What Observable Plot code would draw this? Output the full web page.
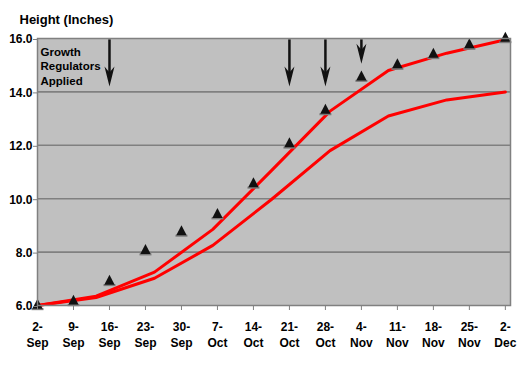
<!DOCTYPE html>
<html>
<head>
<meta charset="utf-8">
<script src="https://cdn.jsdelivr.net/npm/d3@7"></script>
<script src="https://cdn.jsdelivr.net/npm/@observablehq/plot@0.6"></script>
<style>
  html, body { margin: 0; padding: 0; background: #fff; }
</style>
</head>
<body>
<div id="chart"></div>
<script>
// ---- data ----
const weekDates = ["2002-09-02","2002-09-09","2002-09-16","2002-09-23","2002-09-30","2002-10-07","2002-10-14",
                   "2002-10-21","2002-10-28","2002-11-04","2002-11-11","2002-11-18","2002-11-25","2002-12-02"];
const weekLabels = ["2-\nSep","9-\nSep","16-\nSep","23-\nSep","30-\nSep","7-\nOct","14-\nOct",
                    "21-\nOct","28-\nOct","4-\nNov","11-\nNov","18-\nNov","25-\nNov","2-\nDec"];
const observedHeight = [6.05, 6.2, 6.95, 8.1, 8.8, 9.45, 10.6, 12.1, 13.35, 14.6, 15.05, 15.45, 15.8, 16.05];

// curve points: days after 2-Sep
const curveDays  = [0, 11.4, 22.75, 34.1, 45.5, 56.9, 68.25, 79.6, 91];
const upperCurve = [6.0, 6.35, 7.25, 8.85, 11.05, 13.28, 14.8, 15.45, 15.95];
const lowerCurve = [6.0, 6.3, 7.02, 8.25, 9.97, 11.8, 13.1, 13.7, 14.0];

const arrowDates = ["2002-09-16","2002-10-21","2002-10-28","2002-11-04"];
const arrowTop = [15.95, 15.95, 15.95, 15.95];
const arrowTip = [14.2, 14.2, 14.2, 15.05];

const yTicks = [6, 8, 10, 12, 14, 16];
const gridValues = [8, 10, 12, 14];
const titleText = "Height (Inches)";
const noteText = "Growth\nRegulators\nApplied";

// ---- tables ----
const startDate = new Date(weekDates[0]);
const DAY = 86400000;
const observed = weekDates.map((d, i) => ({date: new Date(d), h: observedHeight[i]}));
const curves = curveDays.map((d, i) => ({date: new Date(+startDate + d * DAY), upper: upperCurve[i], lower: lowerCurve[i]}));
const arrows = arrowDates.map((d, i) => ({date: new Date(d), top: arrowTop[i], tip: arrowTip[i]}));
const labelByTime = new Map(weekDates.map((d, i) => [+new Date(d), weekLabels[i]]));

// custom symbols
const triangleSym = {draw(ctx) { ctx.moveTo(0, -5.5); ctx.lineTo(5.2, 4.5); ctx.lineTo(-5.2, 4.5); ctx.closePath(); }};
const shadowSym = {draw(ctx) { ctx.moveTo(-6, 4); ctx.lineTo(6, 4); ctx.lineTo(6, 6); ctx.lineTo(-6, 6); ctx.closePath(); }};
const headSym = {draw(ctx) { ctx.moveTo(0, 0); ctx.lineTo(5, -20); ctx.lineTo(0, -14); ctx.lineTo(-5, -20); ctx.closePath(); }};

const font = "'Liberation Sans', Arial, Helvetica, sans-serif";

const chart = Plot.plot({
  width: 525,
  height: 365,
  marginTop: 38,
  marginRight: 15,
  marginBottom: 60,
  marginLeft: 37,
  style: {fontFamily: font, fontSize: "12px", fontWeight: "bold", background: "#fff", color: "#000"},
  x: {type: "utc", domain: [startDate, new Date(+startDate + 92 * DAY)]},
  y: {domain: [6, 16]},
  marks: [
    Plot.frame({fill: "#c0c0c0", stroke: null}),
    Plot.ruleY(gridValues, {stroke: "#808080", strokeWidth: 1.6}),
    Plot.line(curves, {x: "date", y: "lower", stroke: "#ff0000", strokeWidth: 3}),
    Plot.line(curves, {x: "date", y: "upper", stroke: "#ff0000", strokeWidth: 3}),
    Plot.dot(observed, {x: "date", y: "h", symbol: shadowSym, fill: "#7a7a7a", stroke: "none"}),
    Plot.dot(observed, {x: "date", y: "h", symbol: triangleSym, fill: "#111", stroke: "none"}),
    Plot.ruleX(arrows, {x: "date", y1: "top", y2: "tip", stroke: "#111", strokeWidth: 2.5, insetBottom: 10}),
    Plot.dot(arrows, {x: "date", y: "tip", symbol: headSym, fill: "#111", stroke: "none"}),
    Plot.text([noteText], {frameAnchor: "top-left", dx: 3, dy: 7, textAnchor: "start", lineAnchor: "top",
      fontSize: 11.5, fontWeight: "bold", lineHeight: 1.27, fill: "#000"}),
    Plot.text([titleText], {frameAnchor: "top-left", dx: -18, dy: -24, textAnchor: "start", lineAnchor: "top",
      fontSize: 13, fontWeight: "bold", fill: "#000"}),
    Plot.axisY({ticks: yTicks, tickFormat: d3.format(".1f"), tickSize: 4, tickPadding: 1, stroke: "#808080",
      fill: "#000", fontSize: 12, fontWeight: "bold", dy: 1}),
    Plot.axisX({ticks: weekDates.map(d => new Date(d)), tickFormat: d => labelByTime.get(+d), tickSize: 5,
      tickPadding: 9, stroke: "#808080", fill: "#000", fontSize: 12, fontWeight: "bold", lineHeight: 1.35}),
    Plot.frame({stroke: "#808080", strokeWidth: 1.5})
  ]
});
document.getElementById("chart").appendChild(chart);
</script>
</body>
</html>
